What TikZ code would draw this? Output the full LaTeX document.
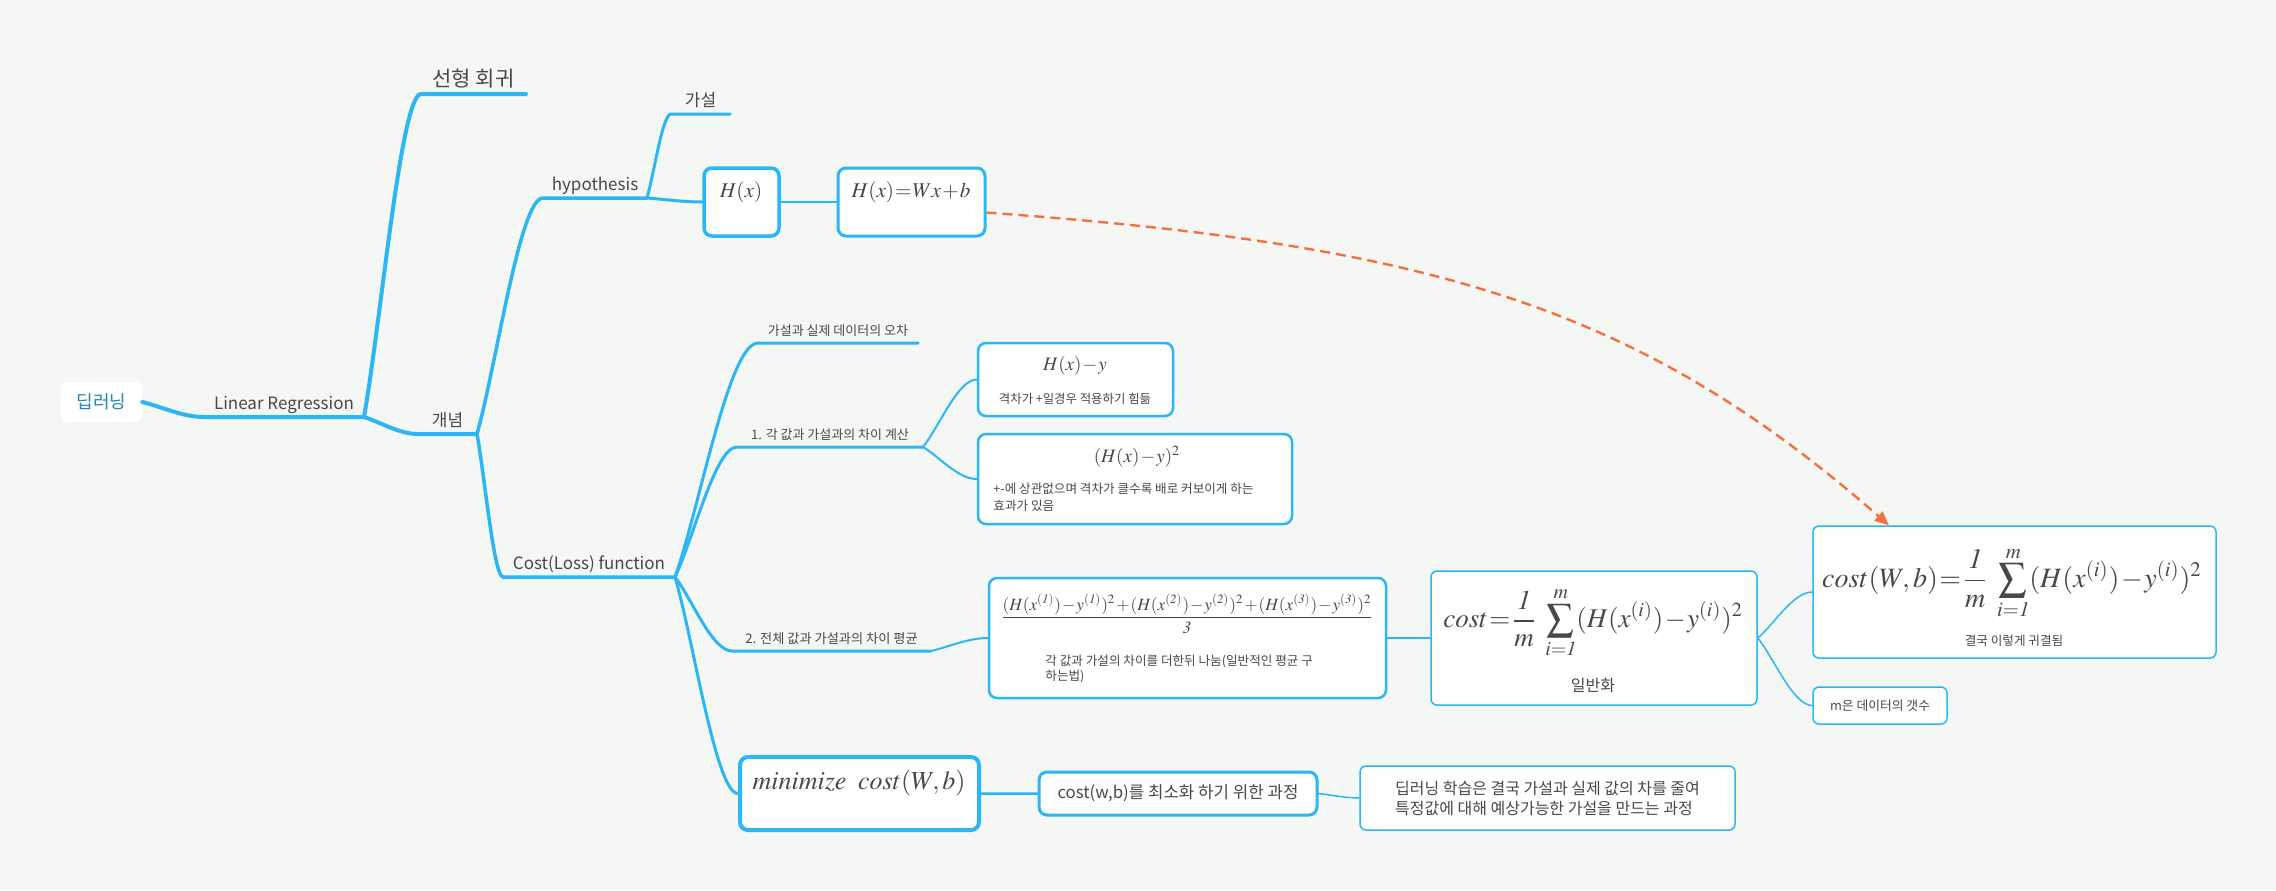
\documentclass[tikz,border=0pt]{standalone}
\usepackage{mathptmx}
\usepackage[no-math]{fontspec}
\setmainfont{Noto Sans CJK KR}
\usetikzlibrary{calc,arrows.meta}
\definecolor{branch}{RGB}{43,182,245}
\definecolor{paper}{RGB}{245,247,244}
\definecolor{ink}{RGB}{72,72,72}
\definecolor{rootink}{RGB}{29,138,178}
\definecolor{flow}{RGB}{244,112,62}
\newcommand\fsz[2]{\fontsize{#1}{#2}\selectfont}
\newcommand\tightmath{\thickmuskip=1mu\medmuskip=1mu}
\tikzset{
  limb/.style={draw=branch, line cap=round,
    to path={.. controls ($(\tikztostart)!0.3!(\tikztotarget)$) and ($(\tikztotarget)!0.35!(\tikztostart |- \tikztotarget)$) .. (\tikztotarget)}},
  topic/.style={anchor=south, inner xsep=0pt, inner ysep=2pt, outer sep=0pt, text depth=2pt, text=ink},
  card/.style={draw=branch, fill=white, rounded corners=4pt, inner sep=0pt, text=ink},
  say/.style={text=ink, inner sep=0pt},
  formula/.style={say, font=\fsz{#1}{#1}\tightmath},
  flowline/.style={draw=flow, line width=1.2pt, dash pattern=on 5pt off 3pt, -{Triangle[length=7pt,width=6pt]}}
}
\begin{document}
\begin{tikzpicture}[x=0.5pt,y=-0.5pt]
\fill[paper] (0,0) rectangle (2276,890);
% topics
\node[fill=white, rounded corners=3pt, minimum width=40.5pt, minimum height=20pt, text=rootink, font=\fsz{9}{11}] (root) at (101.5,402) {딥러닝};
\node[topic, minimum width=80pt, font=\fsz{8.5}{10}] (linreg) at (284,417) {Linear Regression};
\node[topic, minimum width=52.5pt, font=\fsz{10.5}{12}] (seonhyeong) at (473.5,94) {선형 회귀};
\node[topic, minimum width=29.5pt, font=\fsz{8.5}{10}] (gaenyeom) at (447.5,434) {개념};
\node[topic, minimum width=52pt, font=\fsz{8.5}{10}] (hyp) at (595,198) {hypothesis};
\node[topic, minimum width=29.5pt, font=\fsz{8.5}{10}] (gaseol) at (700.5,114) {가설};
\node[topic, minimum width=86pt, font=\fsz{8.5}{10}] (cost) at (589,577) {Cost(Loss) function};
\node[topic, minimum width=80pt, font=\fsz{6.5}{8}] (ochar) at (838,343) {가설과 실제 데이터의 오차};
\node[topic, minimum width=93pt, font=\fsz{6.5}{8}] (step1) at (830,447) {1. 각 값과 가설과의 차이 계산};
\node[topic, minimum width=99.5pt, font=\fsz{6.6}{8}] (step2) at (831.5,651) {2. 전체 값과 가설과의 차이 평균};
% boxes
\node[card, line width=1.75pt, minimum width=37.5pt, minimum height=34pt] (hx) at (741.5,202) {};
\node[card, line width=1.5pt, minimum width=73.5pt, minimum height=34pt] (hwx) at (911.5,202) {};
\node[card, line width=1.25pt, minimum width=97.5pt, minimum height=36.5pt] (diff) at (1075.5,379.5) {};
\node[card, line width=1.25pt, minimum width=157pt, minimum height=45pt] (sq) at (1135,479) {};
\node[card, line width=1.25pt, minimum width=198.5pt, minimum height=60pt] (frac) at (1187.5,638) {};
\node[card, line width=2pt, minimum width=119.5pt, minimum height=36.5pt] (mini) at (859.5,793.5) {};
\node[card, line width=1.5pt, minimum width=139pt, minimum height=21.5pt, font=\fsz{8.4}{10}] (mininote) at (1178,793.5) {cost(w,b)를 최소화 하기 위한 과정};
\node[card, line width=0.75pt, rounded corners=3pt, minimum width=187.5pt, minimum height=32pt, align=left, font=\fsz{8}{10}] (learn) at (1547.5,798) {딥러닝 학습은 결국 가설과 실제 값의 차를 줄여\\특정값에 대해 예상가능한 가설을 만드는 과정};
\node[card, line width=0.75pt, rounded corners=3pt, minimum width=163pt, minimum height=67pt] (general) at (1594,638) {};
\node[card, line width=0.75pt, rounded corners=3pt, minimum width=201.5pt, minimum height=66pt] (final) at (2014.5,592) {};
\node[card, line width=0.75pt, rounded corners=3pt, minimum width=67pt, minimum height=18.5pt, font=\fsz{6.4}{8}] (mcount) at (1880,705.5) {m은 데이터의 갯수};
% box texts
\node[formula=10.5] (hxt) at (741,192) {$H(x)$};
\node[formula=10.5] (hwxt) at (911,192) {$H(x)=Wx+b$};
\node[formula=9.5] (difft) at (1075,366) {$H(x)-y$};
\node[say, font=\fsz{6.2}{8}] (diffnote) at (1075,399) {격차가 +일경우 적용하기 힘듦};
\node[formula=9.5] (sqt) at (1137,457) {$(H(x)-y)^2$};
\node[say, anchor=west, align=left, font=\fsz{6.3}{8.5}] (sqnote) at (993,497.5) {+-에 상관없으며 격차가 클수록 배로 커보이게 하는\\효과가 있음};
\node[formula=8.6] (fract) at (1187,614) {$\displaystyle\frac{(H(x^{(\mathit{1})})-y^{(\mathit{1})})^2+(H(x^{(\mathit{2})})-y^{(\mathit{2})})^2+(H(x^{(\mathit{3})})-y^{(\mathit{3})})^2}{\mathit{3}}$};
\node[say, anchor=west, align=left, font=\fsz{6.3}{7.5}] (fracnote) at (1045,669.5) {각 값과 가설의 차이를 더한뒤 나눔(일반적인 평균 구\\하는법)};
\node[formula=13] (minit) at (859,783) {$minimize\ \ cost(W,b)$};
\node[formula=13.5] (generalt) at (1593,623) {$\displaystyle cost=\frac{\mathit{1}}{m}\ \sum_{i=\mathit{1}}^{m}(H(x^{(i)})-y^{(i)})^2$};
\node[say, font=\fsz{8}{10}] (generalnote) at (1593,685) {일반화};
\node[formula=14] (finalt) at (2012,583) {$\displaystyle cost(W,b)=\frac{\mathit{1}}{m}\ \sum_{i=\mathit{1}}^{m}(H(x^{(i)})-y^{(i)})^2$};
\node[say, font=\fsz{6.3}{8}] (finalnote) at (2014,641) {결국 이렇게 귀결됨};
% branches
\draw[limb, line width=2pt] (root.east) to (linreg.south west) -- (linreg.south east);
\draw[limb, line width=2pt] (linreg.south east) to (seonhyeong.south west) -- (seonhyeong.south east);
\draw[limb, line width=2pt] (linreg.south east) to (gaenyeom.south west) -- (gaenyeom.south east);
\draw[limb, line width=1.75pt] (gaenyeom.south east) to (hyp.south west) -- (hyp.south east);
\draw[limb, line width=1.75pt] (gaenyeom.south east) to (cost.south west) -- (cost.south east);
\draw[limb, line width=1.5pt] (hyp.south east) to (gaseol.south west) -- (gaseol.south east);
\draw[limb, line width=1.5pt] (hyp.south east) to (hx.west);
\draw[limb, line width=1.25pt] (hx.east) to (hwx.west);
\draw[limb, line width=1.5pt] (cost.south east) to (ochar.south west) -- (ochar.south east);
\draw[limb, line width=1.5pt] (cost.south east) to (step1.south west) -- (step1.south east);
\draw[limb, line width=1.5pt] (cost.south east) to (step2.south west) -- (step2.south east);
\draw[limb, line width=1.5pt] (cost.south east) to (mini.west);
\draw[limb, line width=1pt] (step1.south east) to (diff.west);
\draw[limb, line width=1pt] (step1.south east) to (sq.west);
\draw[limb, line width=1pt] (step2.south east) to (frac.west);
\draw[limb, line width=1.25pt] (mini.east) to (mininote.west);
\draw[limb, line width=0.75pt] (mininote.east) to (learn.west);
\draw[limb, line width=0.75pt] (frac.east) to (general.west);
\draw[limb, line width=0.75pt] (general.east) to (final.west);
\draw[limb, line width=0.75pt] (general.east) to (mcount.west);
% relation
\draw[flowline] (hwx.-8.5) .. controls (1435,245) and (1640,308) .. (final.152);
\end{tikzpicture}
\end{document}
